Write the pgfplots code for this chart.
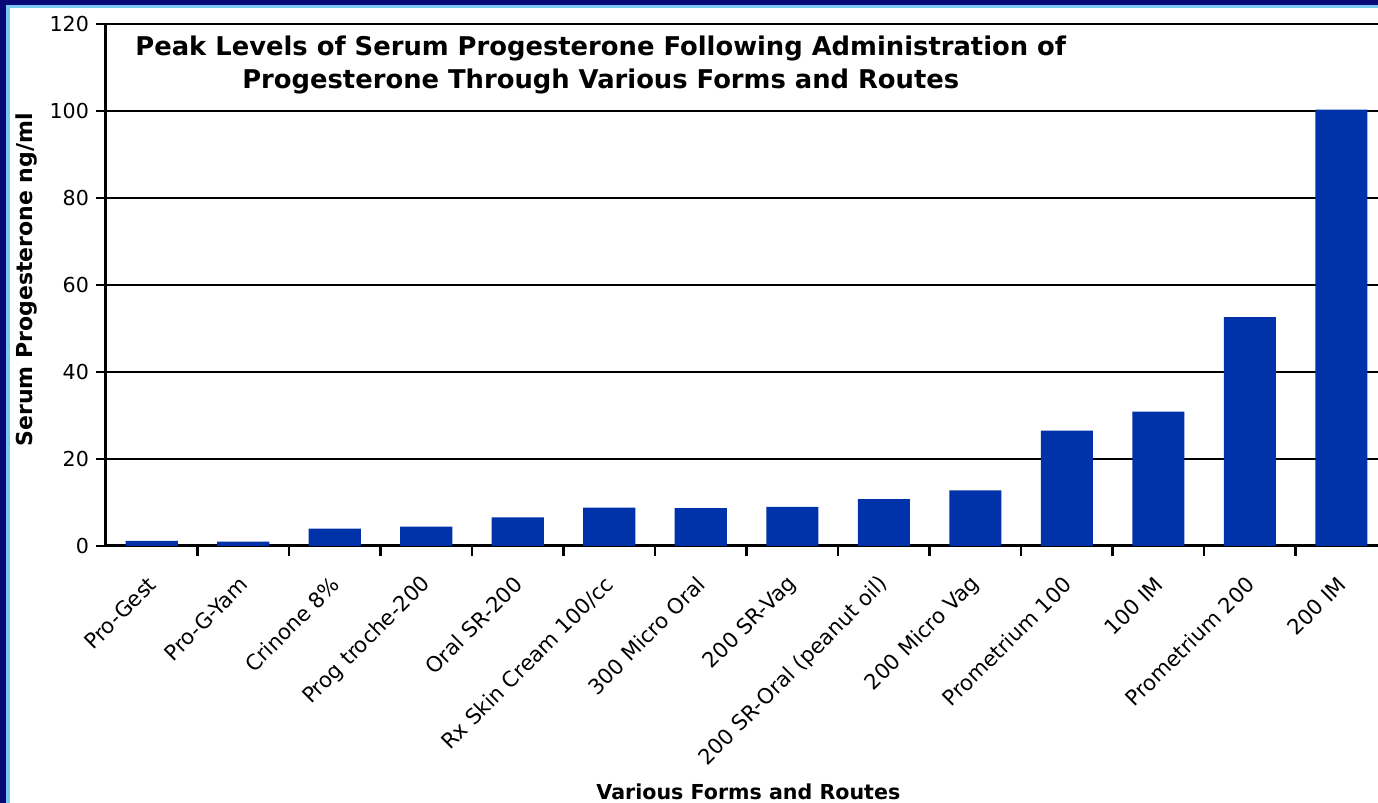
\documentclass[border=0pt]{standalone}
\usepackage{fontspec}
\setmainfont{DejaVu Sans}
\usepackage{pgfplots}
\pgfplotsset{compat=1.18}
\definecolor{barblue}{RGB}{0,50,170}
\definecolor{navy}{RGB}{8,8,118}
\definecolor{lblue}{RGB}{120,200,240}
\begin{document}
\begin{tikzpicture}
\useasboundingbox (-53pt,-128.5pt) rectangle (636pt,273pt);
\fill[white] (-53pt,-128.5pt) rectangle (636pt,273pt);
\fill[navy] (-53pt,-128.5pt) rectangle (-50pt,273pt);
\fill[navy] (-53pt,270.5pt) rectangle (636pt,273pt);
\fill[lblue] (-50pt,-128.5pt) rectangle (-48pt,270.5pt);
\fill[lblue] (-50pt,269pt) rectangle (636pt,270.5pt);
\begin{axis}[
  at={(0pt,0pt)}, anchor=south west,
  scale only axis, width=636pt, height=261pt,
  xmin=-0.5, xmax=13.40, ymin=0, ymax=120,
  ytick={0,20,...,120},
  xtick={0,...,13},
  xticklabels={Pro-Gest,Pro-G-Yam,Crinone 8\%,Prog troche-200,Oral SR-200,Rx Skin Cream 100/cc,300 Micro Oral,200 SR-Vag,200 SR-Oral (peanut oil),200 Micro Vag,Prometrium 100,100 IM,Prometrium 200,200 IM},
  minor xtick={0.5,1.5,...,12.5},
  every major x tick/.append style={draw=none},
  every minor x tick/.append style={black, line width=1.2pt},
  minor tick length=5pt,
  major tick length=5pt,
  tick align=outside,
  ytick style={black, line width=1.2pt},
  axis x line*=bottom, axis y line*=left,
  axis line style={-, line width=1.5pt, black},
  ymajorgrids, grid style={black, line width=1pt},
  /pgf/number format/assume math mode=true,
  yticklabel style={font=\fontsize{10.3}{12}\selectfont},
  xticklabel style={rotate=45, anchor=east, font=\fontsize{10.6}{12}\selectfont, yshift=-9pt, xshift=-5pt},
  xlabel={Various Forms and Routes},
  xlabel style={font=\bfseries\fontsize{10.3}{12}\selectfont, at={(axis description cs:0.505,0)}, anchor=center, yshift=-123pt},
  ylabel={Serum Progesterone ng/ml},
  ylabel style={font=\bfseries\fontsize{11}{13}\selectfont, at={(axis description cs:0,0.51)}, anchor=center, yshift=39.5pt},
  ybar, bar width=0.57, bar shift=0pt,
  clip=true,
]
\addplot[fill=barblue, draw=none] coordinates {
(0,1.15) (1,1.0) (2,4.0) (3,4.45) (4,6.6) (5,8.8) (6,8.7) (7,9.0) (8,10.8) (9,12.8) (10,26.5) (11,30.9) (12,52.6) (13,100.3)
};
\node[align=center, font=\bfseries\fontsize{12.9}{16.5}\selectfont] at (axis description cs:0.389,0.922) {Peak Levels of Serum Progesterone Following Administration of\\Progesterone Through Various Forms and Routes};
\end{axis}
\end{tikzpicture}
\end{document}
